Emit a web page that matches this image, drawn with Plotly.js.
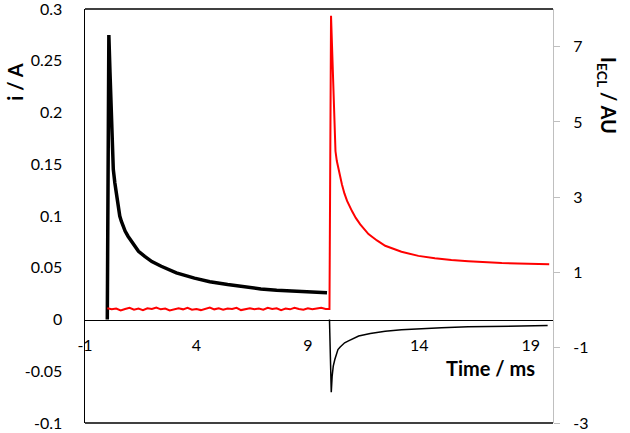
<!DOCTYPE html>
<html>
<head>
<meta charset="utf-8">
<script src="https://cdn.plot.ly/plotly-3.0.1.min.js"></script>
<style>html,body{margin:0;padding:0;background:#fff;}#chart{width:630px;height:433px;}</style>
</head>
<body>
<div id="chart"></div>
<script>
// Current i / A (left axis), first pulse (thick)
const tCurrent1 = [0, 0.07, 0.12, 0.18, 0.22, 0.27, 0.34, 0.4, 0.45, 0.5, 0.56, 0.63, 0.72, 0.8, 0.93, 1.1, 1.25, 1.4, 1.68, 2.0, 2.42, 3.1, 3.91, 4.6, 5.4, 6.1, 6.89, 7.6, 8.38, 9.1, 9.86];
const iCurrent1 = [0, 0.275, 0.24, 0.19, 0.164, 0.145, 0.132, 0.122, 0.114, 0.107, 0.100, 0.095, 0.089, 0.0855, 0.0805, 0.075, 0.070, 0.066, 0.061, 0.056, 0.0515, 0.045, 0.040, 0.0365, 0.0338, 0.0315, 0.0296, 0.0284, 0.0274, 0.0265, 0.0258];
// Current i / A (left axis), second pulse (thin)
const tCurrent2 = [9.97, 10.05, 10.09, 10.14, 10.21, 10.28, 10.35, 10.45, 10.55, 10.65, 10.8, 11.0, 11.28, 11.8, 12.47, 13.2, 13.96, 15.0, 16.19, 18.0, 19.76];
const iCurrent2 = [0, -0.0702, -0.0548, -0.045, -0.0386, -0.0335, -0.029, -0.0265, -0.0245, -0.0225, -0.0208, -0.019, -0.016, -0.0135, -0.0113, -0.010, -0.009, -0.008, -0.0071, -0.0064, -0.0058];
// ECL intensity / AU (right axis)
const tECL = [0, 0.2, 0.4, 0.6, 0.8, 1.0, 1.2, 1.4, 1.6, 1.8, 2.0, 2.2, 2.4, 2.6, 2.8, 3.0, 3.2, 3.4, 3.6, 3.8, 4.0, 4.2, 4.4, 4.6, 4.8, 5.0, 5.2, 5.4, 5.6, 5.8, 6.0, 6.2, 6.4, 6.6, 6.8, 7.0, 7.2, 7.4, 7.6, 7.8, 8.0, 8.2, 8.4, 8.6, 8.8, 9.0, 9.2, 9.4, 9.6, 9.8, 9.9, 9.97,
  10.04, 10.1, 10.18, 10.24, 10.3, 10.36, 10.44, 10.53, 10.64, 10.76, 10.98, 11.15, 11.35, 11.72, 12.1, 12.47, 13.2, 13.96, 14.7, 15.44, 16.2, 16.93, 17.7, 18.42, 19.83];
const iECL = [0.05, 0.02, 0.04, -0.01, 0.03, 0.06, 0.01, 0.04, 0.00, 0.05, 0.03, 0.07, 0.02, 0.04, -0.01, 0.03, 0.05, 0.02, 0.06, 0.01, 0.03, 0.00, 0.04, 0.07, 0.02, 0.05, 0.01, 0.04, 0.03, 0.06, 0.00, 0.03, 0.05, 0.02, 0.04, 0.01, 0.06, 0.03, 0.05, 0.00, 0.04, 0.02, 0.06, 0.03, 0.01, 0.05, 0.02, 0.04, 0.06, 0.03, 0.03, 0.03,
  7.82, 6.6, 5.28, 4.22, 3.96, 3.78, 3.55, 3.34, 3.1, 2.9, 2.63, 2.45, 2.28, 2.02, 1.85, 1.71, 1.55, 1.44, 1.38, 1.33, 1.30, 1.27, 1.25, 1.24, 1.22];

const xTickVals = [-1, 4, 9, 14, 19];
const xTickText = ['-1', '4', '9', '14', '19'];
const yTickVals = [-0.1, -0.05, 0, 0.05, 0.1, 0.15, 0.2, 0.25, 0.3];
const yTickText = ['-0.1', '-0.05', '0', '0.05', '0.1', '0.15', '0.2', '0.25', '0.3'];
const y2TickVals = [-3, -1, 1, 3, 5, 7];
const y2TickText = ['-3', '-1', '1', '3', '5', '7'];

const FONT = 'Lato, "Open Sans", sans-serif';

const traces = [
  {x: tCurrent1, y: iCurrent1, type: 'scatter', mode: 'lines', line: {color: '#000000', width: 3.5}, yaxis: 'y', hoverinfo: 'skip'},
  {x: tCurrent2, y: iCurrent2, type: 'scatter', mode: 'lines', line: {color: '#000000', width: 1.5}, yaxis: 'y', hoverinfo: 'skip'},
  {x: tECL, y: iECL, type: 'scatter', mode: 'lines', line: {color: '#ff0000', width: 2}, yaxis: 'y2', hoverinfo: 'skip'}
];

const layout = {
  width: 630, height: 433,
  margin: {l: 85, r: 77, t: 9, b: 10},
  paper_bgcolor: '#ffffff', plot_bgcolor: '#ffffff',
  showlegend: false,
  font: {family: FONT, size: 16, color: '#000000'},
  xaxis: {
    range: [-1, 20], tickvals: xTickVals, ticktext: xTickText,
    anchor: 'free', position: 0.25,
    showline: true, linecolor: '#000000', linewidth: 1.5,
    showgrid: false, zeroline: false, ticks: '', ticklabelstandoff: 11,
    ticklabeloverflow: 'allow',
    tickfont: {family: FONT, size: 16, color: '#000000'}
  },
  yaxis: {
    range: [-0.1, 0.3001], tickvals: yTickVals, ticktext: yTickText,
    showline: true, linecolor: '#000000', linewidth: 1.5,
    showgrid: false, zeroline: false, ticks: '', ticklabelstandoff: 18,
    ticklabeloverflow: 'allow',
    tickfont: {family: FONT, size: 16, color: '#000000'}
  },
  yaxis2: {
    range: [-3, 8], tickvals: y2TickVals, ticktext: y2TickText,
    overlaying: 'y', side: 'right',
    showline: true, linecolor: '#bfbfbf', linewidth: 1,
    showgrid: false, zeroline: false, ticks: 'outside', ticklen: 6, tickcolor: '#bfbfbf', tickwidth: 1,
    ticklabelstandoff: 10, ticklabeloverflow: 'allow',
    tickfont: {family: FONT, size: 16, color: '#000000'}
  },
  shapes: [
    {type: 'line', xref: 'paper', yref: 'paper', x0: 0, x1: 1, y0: 1, y1: 1, line: {color: '#000000', width: 1.5}},
    {type: 'line', xref: 'paper', yref: 'paper', x0: 0, x1: 1, y0: 0, y1: 0, line: {color: '#000000', width: 1.5}}
  ],
  annotations: [
    {xref: 'paper', yref: 'paper', x: -0.15, y: 0.824, text: '<b>i / A</b>', showarrow: false, textangle: -90,
     font: {family: FONT, size: 20, color: '#000000'}, xanchor: 'center', yanchor: 'middle'},
    {xref: 'paper', yref: 'paper', x: 1.118, y: 0.792, text: '<b>I<sub>ECL</sub> / AU</b>', showarrow: false, textangle: 90,
     font: {family: FONT, size: 20, color: '#000000'}, xanchor: 'center', yanchor: 'middle'},
    {xref: 'paper', yref: 'paper', x: 0.8675, y: 0.133, text: '<b>Time / ms</b>', showarrow: false,
     font: {family: FONT, size: 20, color: '#000000'}, xanchor: 'center', yanchor: 'middle'}
  ]
};

Plotly.newPlot('chart', traces, layout, {staticPlot: true, displayModeBar: false});
</script>
</body>
</html>
